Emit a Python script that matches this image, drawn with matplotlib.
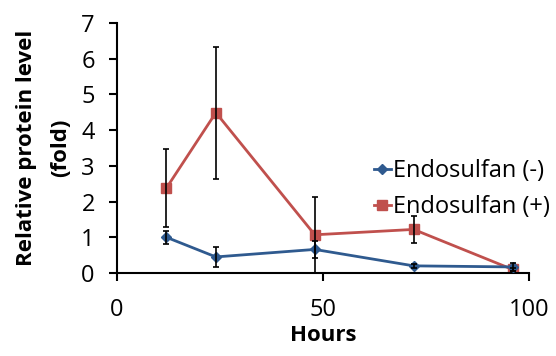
import matplotlib
matplotlib.use("Agg")
import matplotlib.pyplot as plt

hours = [12, 24, 48, 72, 96]
neg_vals = [1.0, 0.45, 0.66, 0.2, 0.17]
neg_err = [0.18, 0.27, 0.25, 0.05, 0.1]
pos_vals = [2.38, 4.49, 1.07, 1.22, 0.1]
pos_err = [1.1, 1.85, 1.07, 0.38, 0.05]
labels = ["Endosulfan (-)", "Endosulfan (+)"]

plt.rcParams['font.family'] = ['Open Sans', 'DejaVu Sans']

fig = plt.figure(figsize=(5.56, 3.56), dpi=100)
ax = fig.add_axes([117/556, 1-273/356, (529-117)/556, (273-23)/356])

blue = '#2f5a8f'
red = '#c0504d'
ax.errorbar(hours, neg_vals, yerr=neg_err, fmt='none', ecolor='black', elinewidth=1.2,
            capsize=2, capthick=1.2, zorder=4)
ax.errorbar(hours, pos_vals, yerr=pos_err, fmt='none', ecolor='black', elinewidth=1.2,
            capsize=2, capthick=1.2, zorder=4)
ax.plot(hours, neg_vals, color=blue, marker='D', markersize=5, lw=2, label=labels[0], zorder=3)
ax.plot(hours, pos_vals, color=red, marker='s', markersize=7, lw=2, label=labels[1], zorder=2)

ax.set_xlim(0, 100)
ax.set_ylim(0, 7)
ax.set_xticks([0, 50, 100])
ax.set_yticks(range(0, 8))
for s in ['top', 'right']:
    ax.spines[s].set_visible(False)
for s in ['left', 'bottom']:
    ax.spines[s].set_linewidth(1.5)
ax.tick_params(axis='both', labelsize=17, width=1.5, length=6, direction='out')
ax.tick_params(axis='x', pad=12)
ax.tick_params(axis='y', pad=10)
ax.set_xlabel('Hours', fontsize=16, fontweight='bold', labelpad=2)
ax.set_ylabel('Relative protein level\n(fold)', fontsize=16, fontweight='bold',
              linespacing=1.8, va='center', ha='center')
ax.yaxis.set_label_coords(-0.178, 0.5)

leg = ax.legend(loc='center left', bbox_to_anchor=(0.60, 0.335), frameon=False, fontsize=17,
                handlelength=0.72, handletextpad=0.1, labelspacing=0.5, borderaxespad=0)

fig.savefig('out.png', dpi=100)
